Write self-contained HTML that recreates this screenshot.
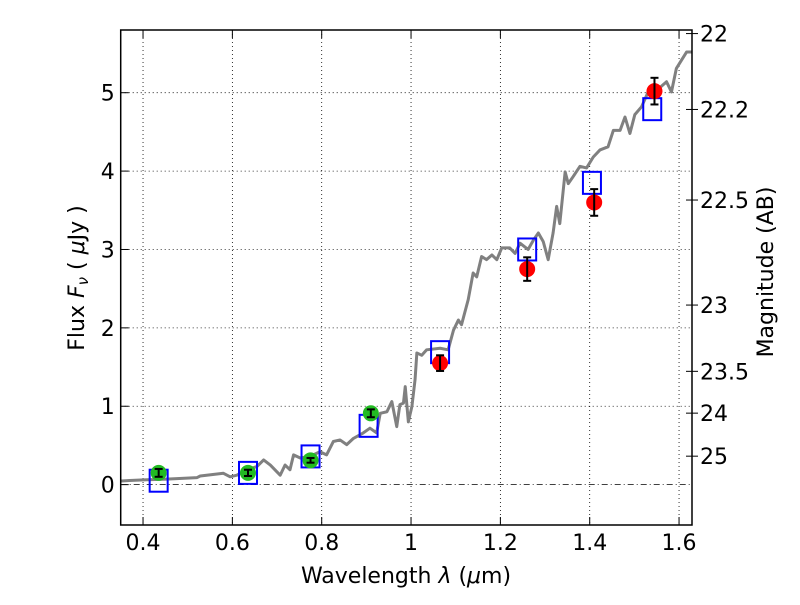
<!DOCTYPE html>
<html><head><meta charset="utf-8"><style>
body{margin:0;background:#fff}
svg text{font-family:"DejaVu Sans","Liberation Sans",sans-serif;fill:#000}
</style></head><body>
<svg id="chart" width="800" height="600" xmlns="http://www.w3.org/2000/svg">
<rect width="800" height="600" fill="#fff"/>
</svg>
<script>
const specWl=[0.35,0.401,0.453,0.521,0.528,0.580,0.595,0.610,0.632,0.655,0.670,0.685,0.707,0.718,0.729,0.737,0.752,0.774,0.796,0.811,0.826,0.841,0.856,0.871,0.893,0.908,0.923,0.931,0.946,0.957,0.968,0.975,0.983,0.987,0.994,1.002,1.009,1.013,1.024,1.035,1.065,1.083,1.095,1.106,1.113,1.128,1.139,1.147,1.158,1.169,1.181,1.192,1.203,1.221,1.233,1.244,1.262,1.274,1.285,1.296,1.307,1.318,1.326,1.333,1.345,1.352,1.363,1.378,1.393,1.408,1.423,1.441,1.453,1.468,1.479,1.490,1.501,1.516,1.531,1.550,1.572,1.583,1.594,1.606,1.617,1.629];
const specFlux=[0.047,0.06,0.07,0.09,0.11,0.145,0.10,0.12,0.19,0.23,0.315,0.25,0.12,0.25,0.19,0.38,0.34,0.36,0.42,0.38,0.55,0.57,0.51,0.59,0.66,0.72,0.66,0.91,0.93,1.06,0.74,1.02,1.04,1.25,0.80,1.0,1.34,1.68,1.65,1.72,1.74,1.72,1.97,2.10,2.04,2.36,2.70,2.65,2.91,2.87,2.93,2.87,3.02,3.02,2.95,3.08,3.0,3.12,3.21,3.10,2.87,3.21,3.55,3.33,3.99,3.84,3.93,4.06,4.04,4.18,4.27,4.31,4.52,4.52,4.69,4.48,4.72,4.82,5.01,5.03,5.14,5.01,5.31,5.42,5.52,5.52];
const greenWl=[0.435,0.635,0.775,0.91];
const greenFlux=[0.15,0.15,0.31,0.91];
const greenErr=[0.05,0.04,0.03,0.05];
const redWl=[1.065,1.26,1.41,1.545];
const redFlux=[1.55,2.75,3.6,5.02];
const redErr=[0.10,0.15,0.17,0.17];
const boxWl=[0.435,0.635,0.775,0.905,1.065,1.26,1.405,1.54];
const boxFlux=[0.05,0.15,0.36,0.75,1.69,3.0,3.85,4.79];
const xTicks=[0.4,0.6,0.8,1.0,1.2,1.4,1.6];
const xTickLabels=["0.4","0.6","0.8","1","1.2","1.4","1.6"];
const yTicks=[0,1,2,3,4,5];
const magTicks=[22,22.2,22.5,23,23.5,24,25];
const magLabels=["22","22.2","22.5","23","23.5","24","25"];

const L=120.7,R=692,T=30,B=525;
const X0=0.35,X1=1.629,Y0=-0.515,Y1=5.80;
const sx=v=>L+(v-X0)/(X1-X0)*(R-L);
const sy=v=>B-(v-Y0)/(Y1-Y0)*(B-T);
const NS="http://www.w3.org/2000/svg";
const svg=document.getElementById('chart');
function mk(tag,attrs,parent){const e=document.createElementNS(NS,tag);for(const k in attrs)e.setAttribute(k,attrs[k]);(parent||svg).appendChild(e);return e;}

xTicks.forEach(t=>{const g=mk('line',{x1:sx(t),x2:sx(t),y1:T,y2:B,stroke:'#000','stroke-width':0.8,'stroke-dasharray':'1,3'});

});
yTicks.forEach(t=>{const g=mk('line',{x1:L,x2:R,y1:sy(t),y2:sy(t),stroke:'#000','stroke-width':0.8,'stroke-dasharray':t===0?'6,3,1,3':'1,3'});

});

const sp=mk('polyline',{points:specWl.map((w,i)=>sx(w)+','+sy(specFlux[i])).join(' '),fill:'none',stroke:'#808080','stroke-width':3,'stroke-linejoin':'round'});



boxWl.forEach((w,i)=>{const r=mk('rect',{x:sx(w)-9,y:sy(boxFlux[i])-11,width:18,height:22,fill:'none',stroke:'#0000ff','stroke-width':2});

});

function pts(wl,fl,er,color,name){wl.forEach((w,i)=>{
 const c=mk('circle',{cx:sx(w),cy:sy(fl[i]),r:8,fill:color});
 
 
 const x=sx(w),y1=sy(fl[i]+er[i]),y2=sy(fl[i]-er[i]);
 const g=mk('g',{stroke:'#000','stroke-width':2});
 
 
 mk('line',{x1:x,x2:x,y1:y1,y2:y2},g);mk('line',{x1:x-4,x2:x+4,y1:y1,y2:y1},g);mk('line',{x1:x-4,x2:x+4,y1:y2,y2:y2},g);
});}
pts(greenWl,greenFlux,greenErr,'#22bb22','optical-point');
pts(redWl,redFlux,redErr,'#ff0000','nir-point');

const fr=mk('rect',{x:L,y:T,width:R-L,height:B-T,fill:'none',stroke:'#000','stroke-width':1.5});



xTicks.forEach((t,i)=>{mk('line',{x1:sx(t),x2:sx(t),y1:B,y2:B-8,stroke:'#000'});mk('line',{x1:sx(t),x2:sx(t),y1:T,y2:T+8,stroke:'#000'});
const tx=mk('text',{x:sx(t),y:B+25,'font-size':22,'text-anchor':'middle'});tx.textContent=xTickLabels[i];

});
yTicks.forEach(t=>{mk('line',{x1:L,x2:L+8,y1:sy(t),y2:sy(t),stroke:'#000'});
const tx=mk('text',{x:L-6,y:sy(t)+8,'font-size':22,'text-anchor':'end'});tx.textContent=t;

});
magTicks.forEach((m,i)=>{const f=Math.pow(10,(23.9-m)/2.5);const y=sy(f);
mk('line',{x1:R-6,x2:R+6,y1:y,y2:y,stroke:'#000'});
const tx=mk('text',{x:R+8,y:y+8,'font-size':22});tx.textContent=magLabels[i];

});
</script>
<svg style="position:absolute;left:0;top:0" width="800" height="600" xmlns="http://www.w3.org/2000/svg">
<text x="406" y="583" font-size="22" text-anchor="middle" font-family="DejaVu Sans, Liberation Sans, sans-serif">Wavelength  <tspan font-style="italic">λ</tspan> (<tspan font-style="italic">μ</tspan>m)</text>
<text transform="translate(84,278) rotate(-90)" font-size="22" text-anchor="middle" font-family="DejaVu Sans, Liberation Sans, sans-serif">Flux  <tspan font-style="italic">F</tspan><tspan font-style="italic" font-size="15" dy="4">ν</tspan><tspan dy="-4">  ( </tspan><tspan font-style="italic">μ</tspan>Jy )</text>
<text transform="translate(773,272) rotate(-90)" font-size="22" text-anchor="middle" font-family="DejaVu Sans, Liberation Sans, sans-serif">Magnitude (AB)</text>
</svg>
</body></html>
